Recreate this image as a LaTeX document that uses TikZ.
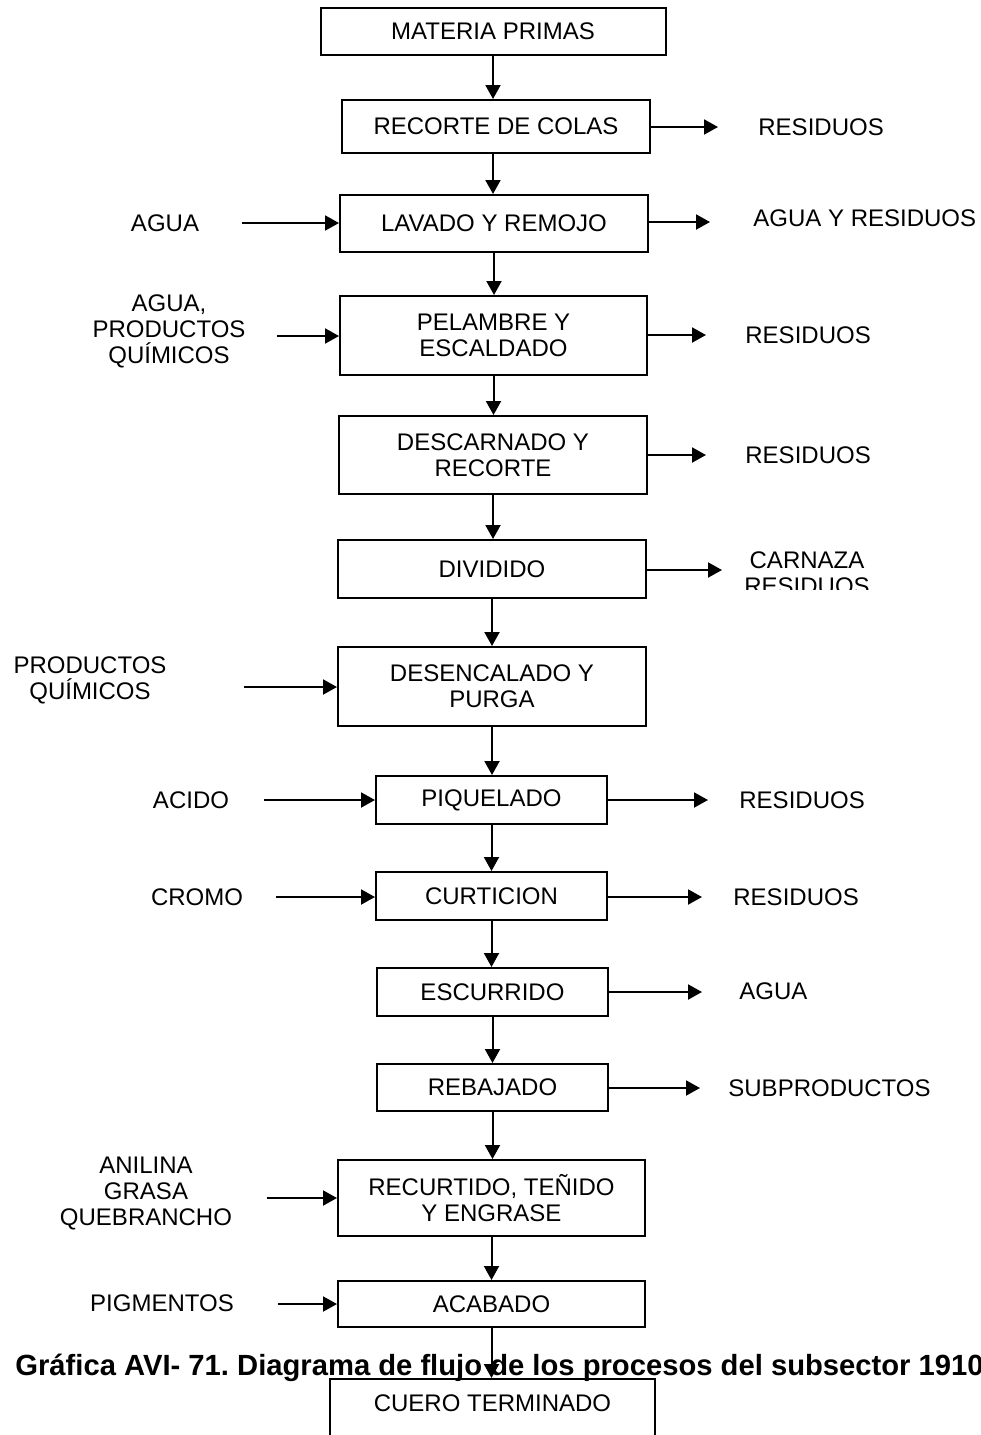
\documentclass[tikz,border=0pt]{standalone}
\usepackage{fontspec}
\setmainfont{Liberation Sans}
\usetikzlibrary{arrows.meta}
\tikzset{
  proceso/.style={rectangle, draw=black, line width=1pt, align=center,
                  inner sep=2pt, font=\fontsize{12pt}{13pt}\selectfont},
  etiqueta/.style={inner sep=0pt, align=center, font=\fontsize{12pt}{13pt}\selectfont},
  titulo/.style={inner sep=0pt, font=\fontsize{14.6pt}{16pt}\selectfont\bfseries\frenchspacing},
  flecha/.style={-{Triangle[length=7pt,width=7.5pt]}, line width=1pt, black},
}
\begin{document}
\begin{tikzpicture}[x=0.5pt, y=-0.5pt]
\clip (0,0) rectangle (980,1435);
\fill[white] (0,0) rectangle (980,1435);

\node[proceso, minimum width=172.5pt, minimum height=23.5pt] (mat) at (493,31.5) {MATERIA PRIMAS};
\node[proceso, minimum width=154pt, minimum height=26.5pt] (rec) at (496,126.5) {RECORTE DE COLAS};
\node[proceso, minimum width=154pt, minimum height=28.5pt] (lav) at (494,223.5) {LAVADO Y REMOJO};
\node[proceso, minimum width=153.5pt, minimum height=39.5pt] (pel) at (493.5,335.5) {PELAMBRE Y\\ESCALDADO};
\node[proceso, minimum width=154pt, minimum height=39pt] (des) at (493,455) {DESCARNADO Y\\RECORTE};
\node[proceso, minimum width=154pt, minimum height=29pt] (div) at (492,569) {DIVIDIDO};
\node[proceso, minimum width=154pt, minimum height=39.5pt] (dese) at (492,686.5) {DESENCALADO Y\\PURGA};
\node[proceso, minimum width=115.5pt, minimum height=24pt] (piq) at (491.5,800) {PIQUELADO};
\node[proceso, minimum width=115.5pt, minimum height=24pt] (cur) at (491.5,896) {CURTICION};
\node[proceso, minimum width=115.5pt, minimum height=24pt] (esc) at (492.5,992) {ESCURRIDO};
\node[proceso, minimum width=115.5pt, minimum height=23.5pt] (reb) at (492.5,1087.5) {REBAJADO};
\node[proceso, minimum width=153.5pt, minimum height=38pt] (recu) at (491.5,1198) {RECURTIDO, TEÑIDO\\Y ENGRASE};
\node[proceso, minimum width=153.5pt, minimum height=23pt] (aca) at (491.5,1304) {ACABADO};
\node[proceso, anchor=north, minimum width=162.5pt, text height=9pt, text depth=20pt, inner ysep=7pt] (cuero) at (492.5,1378) {CUERO TERMINADO};

\node[etiqueta] (ent1) at (165,223) {AGUA};
\node[etiqueta] (ent2) at (169,331) {AGUA,\\PRODUCTOS\\QUÍMICOS};
\node[etiqueta] (ent3) at (90,680) {PRODUCTOS\\QUÍMICOS};
\node[etiqueta] (ent4) at (191,800) {ACIDO};
\node[etiqueta] (ent5) at (197,897) {CROMO};
\node[etiqueta] (ent6) at (146,1193) {ANILINA\\GRASA\\QUEBRANCHO};
\node[etiqueta] (ent7) at (162,1303) {PIGMENTOS};

\node[etiqueta, anchor=west] (sal1) at (758,127) {RESIDUOS};
\node[etiqueta, anchor=west] (sal2) at (753,218) {AGUA Y RESIDUOS};
\node[etiqueta, anchor=west] (sal3) at (745,335) {RESIDUOS};
\node[etiqueta, anchor=west] (sal4) at (745,455) {RESIDUOS};
\begin{scope}
\clip (700,540) rectangle (900,589);
\node[etiqueta] (sal5) at (807,573) {CARNAZA\\RESIDUOS};
\end{scope}
\node[etiqueta, anchor=west] (sal6) at (739,800) {RESIDUOS};
\node[etiqueta, anchor=west] (sal7) at (733,897) {RESIDUOS};
\node[etiqueta, anchor=west] (sal8) at (739,991) {AGUA};
\node[etiqueta, anchor=west] (sal9) at (728,1088) {SUBPRODUCTOS};

\coordinate (in1) at (242,223);
\coordinate (in2) at (277,336);
\coordinate (in3) at (244,687);
\coordinate (in4) at (264,800);
\coordinate (in5) at (276,897);
\coordinate (in6) at (267,1198);
\coordinate (in7) at (278,1304);

\coordinate (out1) at (718,127);
\coordinate (out2) at (710,222);
\coordinate (out3) at (706,335);
\coordinate (out4) at (706,455);
\coordinate (out5) at (722,570);
\coordinate (out6) at (708,800);
\coordinate (out7) at (702,897);
\coordinate (out8) at (702,992);
\coordinate (out9) at (700,1088);

\draw[flecha] (mat) -- (mat |- rec.north);
\draw[flecha] (rec.south -| mat) -- (mat |- lav.north);
\draw[flecha] (lav) -- (lav |- pel.north);
\draw[flecha] (pel) -- (pel |- des.north);
\draw[flecha] (des) -- (des |- div.north);
\draw[flecha] (div) -- (div |- dese.north);
\draw[flecha] (dese) -- (dese |- piq.north);
\draw[flecha] (piq) -- (piq |- cur.north);
\draw[flecha] (cur) -- (cur |- esc.north);
\draw[flecha] (esc) -- (esc |- reb.north);
\draw[flecha] (reb) -- (reb |- recu.north);
\draw[flecha] (recu) -- (recu |- aca.north);
\draw[flecha] (aca) -- (aca |- cuero.north);

\draw[flecha] (in1) -- (in1 -| lav.west);
\draw[flecha] (in2) -- (in2 -| pel.west);
\draw[flecha] (in3) -- (in3 -| dese.west);
\draw[flecha] (in4) -- (in4 -| piq.west);
\draw[flecha] (in5) -- (in5 -| cur.west);
\draw[flecha] (in6) -- (in6 -| recu.west);
\draw[flecha] (in7) -- (in7 -| aca.west);

\draw[flecha] (out1 -| rec.east) -- (out1);
\draw[flecha] (out2 -| lav.east) -- (out2);
\draw[flecha] (out3 -| pel.east) -- (out3);
\draw[flecha] (out4 -| des.east) -- (out4);
\draw[flecha] (out5 -| div.east) -- (out5);
\draw[flecha] (out6 -| piq.east) -- (out6);
\draw[flecha] (out7 -| cur.east) -- (out7);
\draw[flecha] (out8 -| esc.east) -- (out8);
\draw[flecha] (out9 -| reb.east) -- (out9);

\node[titulo, anchor=base west] (cap) at (15,1375) {Gráfica AVI- 71. Diagrama de flujo de los procesos del subsector 1910};
\end{tikzpicture}
\end{document}
